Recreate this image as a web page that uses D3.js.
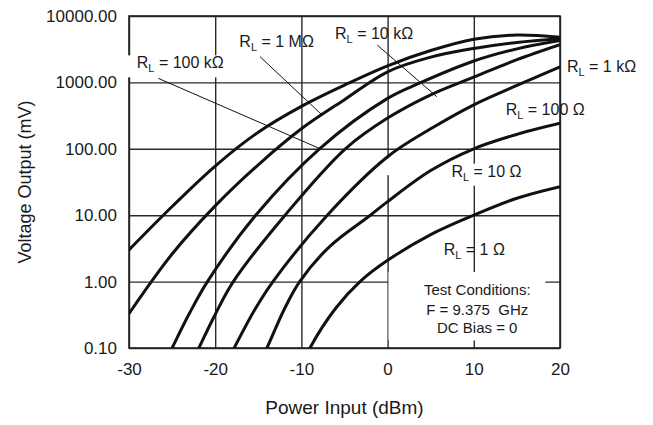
<!DOCTYPE html>
<html>
<head>
<meta charset="utf-8">
<script src="https://cdnjs.cloudflare.com/ajax/libs/d3/7.8.5/d3.min.js"></script>
<style>
body { margin: 0; background: #fff; }
text { font-family: "Liberation Sans", Arial, sans-serif; fill: #1a1a1a; }
.grid line { stroke: #2a2a2a; stroke-width: 1.4; }
.grid path { display: none; }
.axis path, .axis line { display: none; }
.curve { fill: none; stroke: #111; stroke-width: 3; }
.leader { stroke: #111; stroke-width: 1; }
</style>
</head>
<body>
<script>
// values: [power input dBm, voltage output mV]
var seriesNames = ["1 MΩ", "100 kΩ", "10 kΩ", "1 kΩ", "100 Ω", "10 Ω", "1 Ω"];
var rl1M   = [[-30, 3.0], [-25, 13.5], [-20, 55], [-15, 178], [-10, 436], [-5, 912], [0, 1780], [5, 3020], [10, 4470], [15, 5190], [20, 4790]];
var rl100k = [[-30, 0.33], [-25, 2.6], [-20, 13.8], [-15, 57.5], [-10, 200], [-5, 550], [0, 1445], [5, 2400], [10, 3250], [15, 4000], [20, 4550]];
var rl10k  = [[-26.5, 0.04], [-25, 0.1], [-23, 0.33], [-20.9, 1], [-15.3, 10], [-7.9, 100], [0, 575], [3.9, 1000], [10, 2100], [15, 3200], [20, 4270]];
var rl1k   = [[-23, 0.05], [-21.9, 0.1], [-20, 0.32], [-17.9, 1], [-11.9, 10], [-4.9, 100], [0, 290], [5, 650], [10, 1200], [15, 2200], [20, 3700]];
var rl100  = [[-19, 0.05], [-17.8, 0.1], [-15.5, 0.36], [-13.3, 1], [-7, 10], [0, 76], [5, 200], [10, 460], [15, 900], [20, 1720]];
var rl10   = [[-15, 0.055], [-14, 0.1], [-12, 0.38], [-10.2, 1], [-6.7, 3.4], [-2, 10], [0, 16], [5, 47], [10, 100], [15, 165], [20, 242]];
var rl1    = [[-10, 0.05], [-9, 0.1], [-6, 0.4], [-3.2, 1], [0, 2.09], [5, 5.1], [10, 10], [15, 18], [20, 26.9]];
var series = [rl1M, rl100k, rl10k, rl1k, rl100, rl10, rl1];

var xTicks = [-30, -20, -10, 0, 10, 20];
var yTicks = [0.1, 1, 10, 100, 1000, 10000];
var yTickLabels = ["0.10", "1.00", "10.00", "100.00", "1000.00", "10000.00"];

// curve labels and leader lines, in chart units
var labelNames = ["100 kΩ", "1 MΩ", "10 kΩ", "1 kΩ", "100 Ω", "10 Ω", "1 Ω"];
var labelAt = [[-29.1, 1630], [-17.2, 3450], [-6.1, 4450], [20.8, 1450], [13.7, 323], [7.4, 38], [6.5, 2.5]];
var labelMasked = [true, false, false, false, false, true, false];
var leaderFrom = [[-26.6, 1150], [-14.8, 2440], [-1.2, 3650]];
var leaderTo = [[-7.8, 100], [-7.6, 323], [5.7, 610]];

var testLines = ["Test Conditions:", "F = 9.375  GHz", "DC Bias = 0"];
var testX = 10.4;
var testY = [0.63, 0.314, 0.17];
var testBox = [[0.1, 1.4], [18.3, 0.13]];
// small break in the 0 dBm gridline
var gridGap = [0, 72, 40];

// set the dimensions and margins of the graph
var margin = {top: 16, right: 93, bottom: 77, left: 129},
    width = 653 - margin.left - margin.right,
    height = 425 - margin.top - margin.bottom;

var svg = d3.select("body").append("svg")
    .attr("width", 653)
    .attr("height", 425)
  .append("g")
    .attr("transform", "translate(" + margin.left + "," + margin.top + ")");

var x = d3.scaleLinear().domain([-30, 20]).range([0, width]);
var y = d3.scaleLog().domain([0.1, 10000]).range([height, 0]);

// gridlines
svg.append("g")
    .attr("class", "grid")
    .attr("transform", "translate(0," + height + ")")
    .call(d3.axisBottom(x).tickValues(xTicks).tickSize(-height).tickFormat(""));

svg.append("g")
    .attr("class", "grid")
    .call(d3.axisLeft(y).tickValues(yTicks).tickSize(-width).tickFormat(""));

svg.append("rect")
    .attr("width", width)
    .attr("height", height)
    .style("fill", "none")
    .style("stroke", "#222")
    .style("stroke-width", 1.6);

// tick labels
svg.append("g")
    .attr("class", "axis")
    .attr("transform", "translate(0," + height + ")")
    .call(d3.axisBottom(x).tickValues(xTicks).tickSize(0).tickPadding(15)
        .tickFormat(function(d) { return String(d); }))
    .attr("font-size", 17)
    .attr("font-family", null);

svg.append("g")
    .attr("class", "axis")
    .call(d3.axisLeft(y).tickValues(yTicks).tickSize(0).tickPadding(12)
        .tickFormat(function(d, i) { return yTickLabels[i]; }))
    .attr("font-size", 17)
    .attr("font-family", null);

// axis titles
svg.append("text")
    .attr("x", width / 2)
    .attr("y", height + 66)
    .style("text-anchor", "middle")
    .attr("font-size", 19)
    .text("Power Input (dBm)");

svg.append("text")
    .attr("transform", "rotate(-90)")
    .attr("x", -height / 2)
    .attr("y", -98)
    .style("text-anchor", "middle")
    .attr("font-size", 18)
    .text("Voltage Output (mV)");

// white box behind the test conditions
svg.append("rect")
    .attr("x", x(testBox[0][0]))
    .attr("y", y(testBox[0][1]))
    .attr("width", x(testBox[1][0]) - x(testBox[0][0]))
    .attr("height", y(testBox[1][1]) - y(testBox[0][1]))
    .style("fill", "#fff");

svg.append("rect")
    .attr("x", x(gridGap[0]) - 2)
    .attr("y", y(gridGap[1]))
    .attr("width", 4)
    .attr("height", y(gridGap[2]) - y(gridGap[1]))
    .style("fill", "#fff");

// curves
svg.append("clipPath").attr("id", "plot")
  .append("rect").attr("width", width).attr("height", height);

var line = d3.line()
    .x(function(d) { return x(d[0]); })
    .y(function(d) { return y(d[1]); })
    .curve(d3.curveCatmullRom.alpha(0.5));

svg.append("g")
    .attr("clip-path", "url(#plot)")
  .selectAll(".curve")
    .data(series)
    .enter().append("path")
    .attr("class", "curve")
    .attr("d", line);

// leader lines
svg.selectAll(".leader")
    .data(leaderFrom)
    .enter().append("line")
    .attr("class", "leader")
    .attr("x1", function(d) { return x(d[0]); })
    .attr("y1", function(d) { return y(d[1]); })
    .attr("x2", function(d, i) { return x(leaderTo[i][0]); })
    .attr("y2", function(d, i) { return y(leaderTo[i][1]); });

// R_L labels
labelNames.forEach(function(name, i) {
  var g = svg.append("g");
  var bg = g.append("rect").style("fill", "#fff");
  var t = g.append("text")
      .attr("x", x(labelAt[i][0]))
      .attr("y", y(labelAt[i][1]))
      .attr("font-size", 16);
  t.append("tspan").text("R");
  t.append("tspan").attr("font-size", 11).attr("dy", 4).text("L");
  t.append("tspan").attr("dy", -4).text(" = " + name);
  if (labelMasked[i]) {
    var b = t.node().getBBox();
    var left = i == 0 ? -4 : b.x - 2;
    bg.attr("x", left).attr("y", b.y + 1)
      .attr("width", b.x + b.width + 2 - left).attr("height", b.height + 2);
  } else {
    bg.remove();
  }
});

// test conditions
svg.selectAll(".test")
    .data(testLines)
    .enter().append("text")
    .attr("class", "test")
    .attr("x", x(testX))
    .attr("y", function(d, i) { return y(testY[i]); })
    .attr("font-size", 15)
    .style("text-anchor", "middle")
    .style("white-space", "pre")
    .text(function(d) { return d; });
</script>
</body>
</html>
